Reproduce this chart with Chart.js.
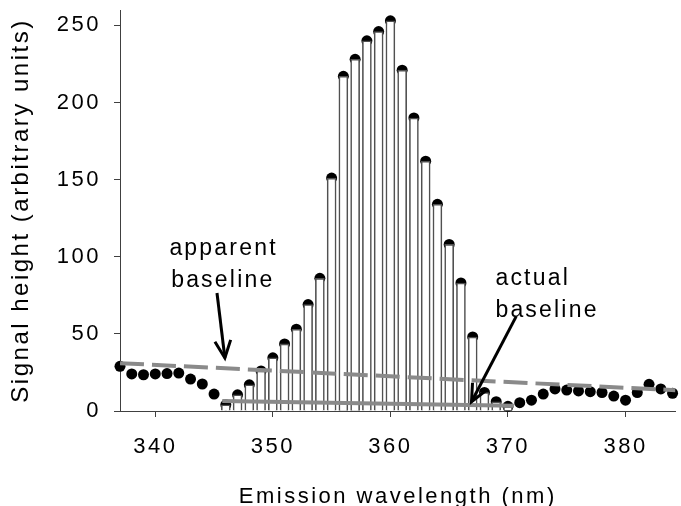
<!DOCTYPE html>
<html>
<head>
<meta charset="utf-8">
<script src="https://cdn.jsdelivr.net/npm/chart.js@4"></script>
<style>
  html, body { margin: 0; padding: 0; background: #fff; }
  #chart { display: block; }
</style>
</head>
<body>
<canvas id="chart" width="681" height="506"></canvas>
<script>
// emission scan, one reading per nm
const wavelengths = [337, 338, 339, 340, 341, 342, 343, 344, 345, 346, 347, 348,
  349, 350, 351, 352, 353, 354, 355, 356, 357, 358, 359, 360, 361, 362, 363, 364,
  365, 366, 367, 368, 369, 370, 371, 372, 373, 374, 375, 376, 377, 378, 379, 380,
  381, 382, 383, 384];
const signal = [29, 24, 23.5, 24, 24.3, 24.6, 20.7, 17.5, 11, 4, 10.5, 17,
  26, 34.5, 43.5, 53, 69, 86, 151, 217, 228, 240, 246, 253, 221, 190, 162, 134,
  108, 83, 48, 12, 6, 3, 5.4, 7, 11, 14.3, 13.6, 13, 12.5, 12, 9.7, 7,
  12, 17.3, 14.3, 11.5];
// readings inside the peak get an open drop line
const peakFrom = 346;
const peakTo = 370;

const xTicks = [340, 350, 360, 370, 380];
const yTicks = [0, 50, 100, 150, 200, 250];

// baselines as [wavelength, height] end points
const apparentBaseline = [[337, 31], [384.25, 13.5]];
const actualBaseline = [[345.7, 6.5], [370.5, 3.4]];

// callouts, placed in data units
const noteLabels = [
  { text: 'apparent', at: [341.2, 101] },
  { text: 'baseline', at: [341.35, 80.4] },
  { text: 'actual', at: [368.93, 81.7] },
  { text: 'baseline', at: [368.93, 61.1] }
];
const noteArrows = [
  { from: [345.25, 76.5], to: [345.92, 34.4] },
  { from: [370.69, 61.2], to: [366.9, 6.0] }
];

const FONT = "'Liberation Sans', Arial, sans-serif";
const AXIS = '#404040';
const GREY = '#8a8a8a';

const points = wavelengths.map((w, i) => ({ x: w, y: signal[i] }));
const peakBars = points.filter(p => p.x >= peakFrom && p.x <= peakTo);
const toXY = pairs => pairs.map(([x, y]) => ({ x, y }));

// Excel-ish wide text
const spacedText = {
  id: 'spacedText',
  beforeDraw(chart) { chart.ctx.letterSpacing = '2.5px'; }
};

const callouts = {
  id: 'callouts',
  afterDraw(chart) {
    const { ctx, scales: { x, y } } = chart;
    ctx.save();
    ctx.letterSpacing = '2.2px';
    ctx.font = '23px ' + FONT;
    ctx.fillStyle = '#000';
    ctx.textAlign = 'left';
    ctx.textBaseline = 'alphabetic';
    noteLabels.forEach(n => {
      ctx.fillText(n.text, x.getPixelForValue(n.at[0]), y.getPixelForValue(n.at[1]));
    });

    ctx.strokeStyle = '#000';
    ctx.lineWidth = 3;
    ctx.lineJoin = 'miter';
    noteArrows.forEach(a => {
      const x0 = x.getPixelForValue(a.from[0]), y0 = y.getPixelForValue(a.from[1]);
      const x1 = x.getPixelForValue(a.to[0]), y1 = y.getPixelForValue(a.to[1]);
      const ang = Math.atan2(y1 - y0, x1 - x0);
      const len = 19, spread = 0.43;
      ctx.beginPath();
      ctx.moveTo(x0, y0);
      ctx.lineTo(x1, y1);
      ctx.stroke();
      ctx.beginPath();
      ctx.moveTo(x1 - len * Math.cos(ang - spread), y1 - len * Math.sin(ang - spread));
      ctx.lineTo(x1, y1);
      ctx.lineTo(x1 - len * Math.cos(ang + spread), y1 - len * Math.sin(ang + spread));
      ctx.stroke();
    });
    ctx.restore();
  }
};

new Chart(document.getElementById('chart'), {
  type: 'scatter',
  data: {
    datasets: [
      {
        label: 'readings',
        data: points,
        backgroundColor: '#000',
        borderWidth: 0,
        pointRadius: 5.5,
        clip: false,
        order: 4
      },
      {
        type: 'bar',
        label: 'peak',
        data: peakBars,
        backgroundColor: '#fff',
        borderColor: '#505050',
        borderWidth: 1.6,
        barThickness: 9,
        grouped: false,
        order: 3
      },
      {
        type: 'line',
        label: 'apparent baseline',
        data: toXY(apparentBaseline),
        borderColor: GREY,
        borderWidth: 4,
        borderDash: [24, 8],
        pointRadius: 0,
        order: 2
      },
      {
        type: 'line',
        label: 'actual baseline',
        data: toXY(actualBaseline),
        borderColor: GREY,
        borderWidth: 4,
        pointRadius: 0,
        order: 1
      }
    ]
  },
  options: {
    responsive: false,
    animation: false,
    devicePixelRatio: 1,
    layout: { padding: { top: 10, left: 0, right: 0, bottom: 0 } },
    plugins: {
      legend: { display: false },
      tooltip: { enabled: false }
    },
    scales: {
      x: {
        type: 'linear',
        min: 337,
        max: 384.25,
        offset: false,
        afterBuildTicks: s => { s.ticks = xTicks.map(v => ({ value: v })); },
        afterFit: s => { s.height = 95; s.paddingLeft = 0; s.paddingRight = 0; },
        grid: { drawOnChartArea: false, drawTicks: true, tickLength: 6, tickColor: AXIS, tickWidth: 1, offset: false },
        border: { display: true, color: AXIS, width: 1 },
        ticks: { color: '#000', font: { family: FONT, size: 22 }, padding: 17, maxRotation: 0, autoSkip: false },
        title: {
          display: true,
          text: 'Emission wavelength (nm)',
          color: '#000',
          font: { family: FONT, size: 22 },
          padding: { top: 0, bottom: -4 }
        }
      },
      y: {
        type: 'linear',
        min: 0,
        max: 260,
        afterBuildTicks: s => { s.ticks = yTicks.map(v => ({ value: v })); },
        afterFit: s => { s.width = 120; s.paddingTop = 0; s.paddingBottom = 0; },
        grid: { drawOnChartArea: false, drawTicks: true, tickLength: 6, tickColor: AXIS, tickWidth: 1 },
        border: { display: true, color: AXIS, width: 1 },
        ticks: { color: '#000', font: { family: FONT, size: 22 }, padding: 13 },
        title: {
          display: true,
          text: 'Signal height (arbitrary units)',
          color: '#000',
          font: { family: FONT, size: 24 },
          padding: { top: 7, bottom: 0 }
        }
      }
    }
  },
  plugins: [spacedText, callouts]
});
</script>
</body>
</html>
